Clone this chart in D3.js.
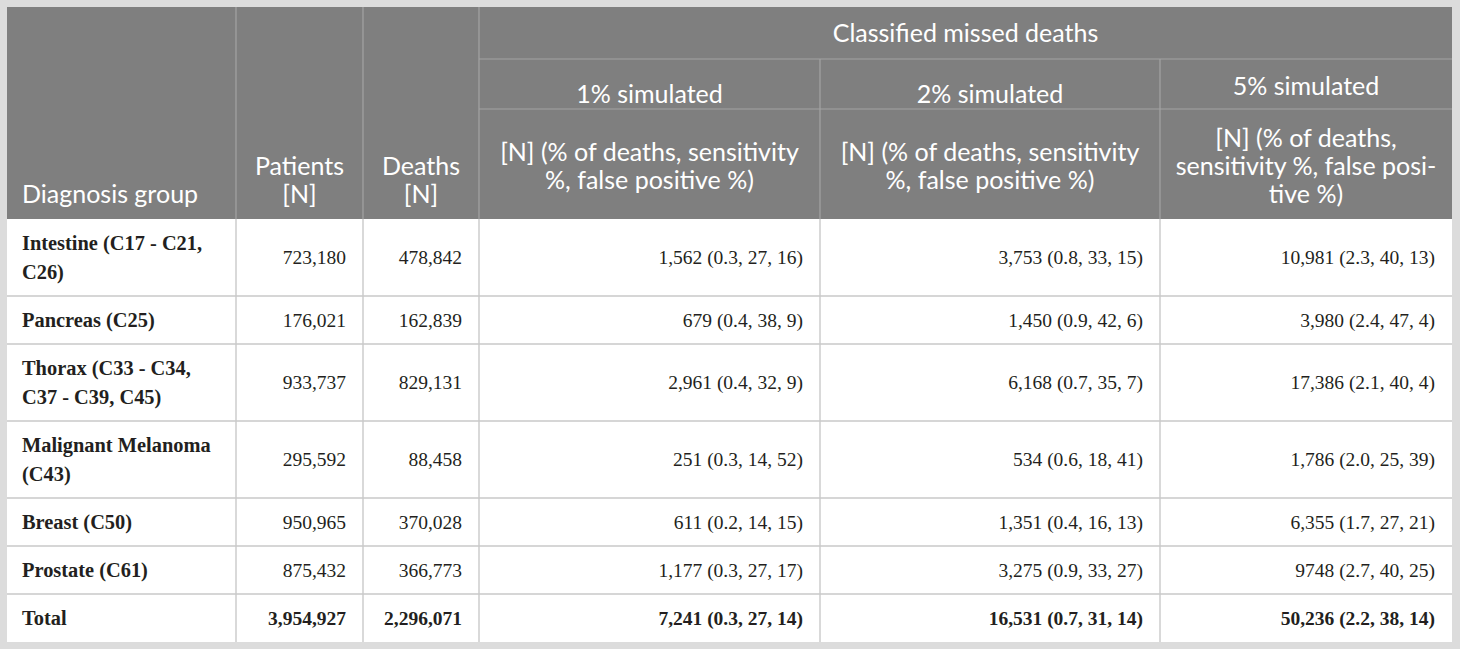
<!DOCTYPE html>
<html>
<head>
<meta charset="utf-8">
<script src="https://cdn.jsdelivr.net/npm/d3@7"></script>
<style>
  body { margin: 0; background: #dcdcdc; }
  svg { display: block; }
</style>
</head>
<body>
<svg id="table"></svg>
<script>
// ---- data ----
const diagnosisGroups = [
    "Intestine (C17 - C21,\nC26)",
    "Pancreas (C25)",
    "Thorax (C33 - C34,\nC37 - C39, C45)",
    "Malignant Melanoma\n(C43)",
    "Breast (C50)",
    "Prostate (C61)",
    "Total"
];
const patients = [723180, 176021, 933737, 295592, 950965, 875432, 3954927];
const deaths = [478842, 162839, 829131, 88458, 370028, 366773, 2296071];
const missed1 = ["1,562 (0.3, 27, 16)", "679 (0.4, 38, 9)", "2,961 (0.4, 32, 9)", "251 (0.3, 14, 52)",
    "611 (0.2, 14, 15)", "1,177 (0.3, 27, 17)", "7,241 (0.3, 27, 14)"];
const missed2 = ["3,753 (0.8, 33, 15)", "1,450 (0.9, 42, 6)", "6,168 (0.7, 35, 7)", "534 (0.6, 18, 41)",
    "1,351 (0.4, 16, 13)", "3,275 (0.9, 33, 27)", "16,531 (0.7, 31, 14)"];
const missed5 = ["10,981 (2.3, 40, 13)", "3,980 (2.4, 47, 4)", "17,386 (2.1, 40, 4)", "1,786 (2.0, 25, 39)",
    "6,355 (1.7, 27, 21)", "9748 (2.7, 40, 25)", "50,236 (2.2, 38, 14)"];

const groupHeader = "Classified missed deaths";
const simHeaders = ["1% simulated", "2% simulated", "5% simulated"];
const leftHeaders = ["Diagnosis group", "Patients\n[N]", "Deaths\n[N]"];
const subHeaders = [
    "[N] (% of deaths, sensitivity\n%, false positive %)",
    "[N] (% of deaths, sensitivity\n%, false positive %)",
    "[N] (% of deaths,\nsensitivity %, false posi-\ntive %)"
];

// ---- layout ----
const W = 1460, H = 649;
const frame = 7;
const colWidths = [229, 127, 116, 341, 340, 292];
const headRows = [52, 50, 110];
const lineH = 28;
const headFont = "Lato, 'Open Sans', sans-serif";
const bodyFont = "'Liberation Serif', 'DejaVu Serif', serif";
const fmt = d3.format(",");

const svg = d3.select("#table").attr("width", W).attr("height", H);

svg.append("rect").attr("width", W).attr("height", H).attr("fill", "#dcdcdc");

// column edges
const colX = [frame];
colWidths.forEach(w => colX.push(colX[colX.length - 1] + w));
const headY = [frame];
headRows.forEach(h => headY.push(headY[headY.length - 1] + h));
const headBottom = headY[3];

// body rows
const rows = diagnosisGroups.map((g, i) => ({
    label: g.split("\n"),
    cells: [fmt(patients[i]), fmt(deaths[i]), missed1[i], missed2[i], missed5[i]],
    total: g === "Total"
}));
const rowH = rows.map(r => 19 + 29 * r.label.length);
const rowY = [headBottom];
rowH.forEach(h => rowY.push(rowY[rowY.length - 1] + h));
const tableBottom = rowY[rowY.length - 1];

// table background
svg.append("rect")
    .attr("x", frame).attr("y", frame)
    .attr("width", colX[6] - frame).attr("height", tableBottom - frame)
    .attr("fill", "#ffffff");
svg.append("rect")
    .attr("x", frame).attr("y", frame)
    .attr("width", colX[6] - frame).attr("height", headBottom - frame)
    .attr("fill", "#7f7f7f");

// helper: multi-line text
function multiText(g, lines, x, yCenter, anchor, opts) {
    const t = g.append("text")
        .attr("x", x)
        .attr("text-anchor", anchor)
        .attr("font-family", opts.font)
        .attr("font-size", opts.size)
        .attr("font-weight", opts.weight || "normal")
        .attr("fill", opts.color);
    const n = lines.length;
    lines.forEach((l, k) => {
        t.append("tspan")
            .attr("x", x)
            .attr("y", yCenter + (k - (n - 1) / 2) * opts.lh)
            .attr("dy", "0.35em")
            .text(l);
    });
    return t;
}

// ---- header grid lines ----
const hl = svg.append("g").attr("stroke", "#a3a3a3").attr("stroke-width", 1.2);
[1, 2, 3, 4, 5].forEach(c => {
    const y0 = c >= 4 ? headY[1] : frame;
    hl.append("line").attr("x1", colX[c]).attr("x2", colX[c]).attr("y1", y0).attr("y2", headBottom);
});
[1, 2].forEach(r => {
    hl.append("line").attr("x1", colX[3]).attr("x2", colX[6]).attr("y1", headY[r]).attr("y2", headY[r]);
});

// ---- header text ----
const head = svg.append("g");
const headOpts = { font: headFont, size: "25px", color: "#ffffff", lh: lineH };
// left headers: bottom aligned
leftHeaders.forEach((h, c) => {
    const lines = h.split("\n");
    const yc = headBottom - 25 - (lines.length - 1) * lineH / 2;
    if (c === 0) multiText(head, lines, colX[0] + 15, yc, "start", headOpts);
    else multiText(head, lines, (colX[c] + colX[c + 1]) / 2, yc, "middle", headOpts);
});
multiText(head, [groupHeader], (colX[3] + colX[6]) / 2, (headY[0] + headY[1]) / 2, "middle", headOpts);
simHeaders.forEach((h, k) => {
    const yc = k < 2 ? headY[2] - 15 : (headY[1] + headY[2]) / 2 + 2;
    multiText(head, [h], (colX[3 + k] + colX[4 + k]) / 2, yc, "middle", headOpts);
});
subHeaders.forEach((h, k) => {
    multiText(head, h.split("\n"), (colX[3 + k] + colX[4 + k]) / 2,
        (headY[2] + headY[3]) / 2 + 2, "middle", headOpts);
});

// ---- body grid lines ----
const bl = svg.append("g").attr("stroke", "#c9c9c9").attr("stroke-width", 1.4);
rowY.slice(1, -1).forEach(y => {
    bl.append("line").attr("x1", frame).attr("x2", colX[6]).attr("y1", y).attr("y2", y);
});
[1, 2, 3, 4, 5].forEach(c => {
    bl.append("line").attr("x1", colX[c]).attr("x2", colX[c]).attr("y1", headBottom).attr("y2", tableBottom);
});

// ---- body text ----
const body = svg.append("g");
rows.forEach((r, i) => {
    const yc = (rowY[i] + rowY[i + 1]) / 2;
    multiText(body, r.label, colX[0] + 15, yc, "start",
        { font: bodyFont, size: "20.4px", weight: "bold", color: "#231f20", lh: 29 });
    r.cells.forEach((v, c) => {
        multiText(body, [v], colX[c + 2] - 17, yc, "end",
            { font: bodyFont, size: "19.5px", weight: r.total ? "bold" : "normal", color: "#231f20", lh: 29 });
    });
});
</script>
</body>
</html>
